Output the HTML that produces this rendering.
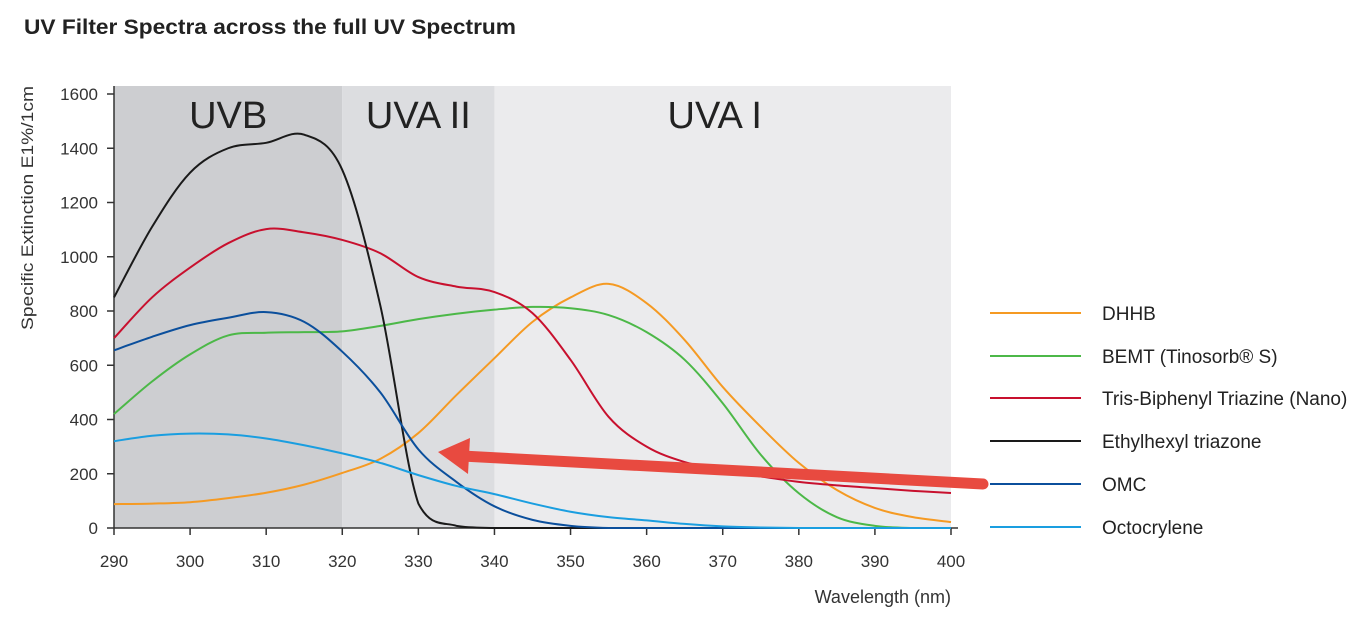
<!DOCTYPE html>
<html><head><meta charset="utf-8"><style>
body{margin:0;background:#fff;}
svg text{font-family:"Liberation Sans",Arial,sans-serif;}
</style></head><body>
<svg width="1366" height="617" viewBox="0 0 1366 617" xmlns="http://www.w3.org/2000/svg">
<text x="24" y="34" font-size="21" font-weight="bold" fill="#222" textLength="492" lengthAdjust="spacingAndGlyphs">UV Filter Spectra across the full UV Spectrum</text>
<g id="bands"></g>
<g id="axes"></g>
<g id="series"></g>
<g id="legend"></g>
<text transform="translate(33,208) rotate(-90)" text-anchor="middle" font-size="17" fill="#333" textLength="244" lengthAdjust="spacingAndGlyphs">Specific Extinction E1%/1cm</text>
<text x="951" y="603" text-anchor="end" font-size="18" fill="#333">Wavelength (nm)</text>
<g>
<line x1="983" y1="484" x2="462" y2="456" stroke="#e84a40" stroke-width="11" stroke-linecap="round"/>
<polygon points="438,452 470,438 468,474" fill="#e84a40"/>
</g>
</svg>
<script>
const NS="http://www.w3.org/2000/svg";
const wl=[290,295,300,305,310,315,320,325,330,335,340,345,350,355,360,365,370,375,380,385,390,395,400];
const dhhb=[88,90,95,110,130,160,203,255,350,490,626,760,850,900,829,693,520,373,240,140,74,40,22];
const bemt=[420,540,640,710,720,722,725,745,770,790,805,815,810,785,722,620,460,270,128,40,8,0,0];
const tbt=[700,850,960,1050,1102,1090,1062,1013,925,890,870,792,620,410,300,243,213,190,170,157,147,137,129];
const eht=[850,1110,1310,1400,1420,1450,1320,820,90,8,0,0,0,0,0,0,0,0,0,0,0,0,0];
const omc=[655,705,748,775,796,760,650,500,290,170,80,30,8,0,0,0,0,0,0,0,0,0,0];
const octo=[320,340,348,345,330,305,275,240,195,155,125,90,60,40,28,15,6,2,0,0,0,0,0];
const xTicks=[290,300,310,320,330,340,350,360,370,380,390,400];
const yTicks=[0,200,400,600,800,1000,1200,1400,1600];
const bandStarts=[290,320,340];
const bandEnds=[320,340,400];
const bandLabels=["UVB","UVA II","UVA I"];
const seriesNames=["DHHB","BEMT (Tinosorb® S)","Tris-Biphenyl Triazine (Nano)","Ethylhexyl triazone","OMC","Octocrylene"];
const seriesData=[dhhb,bemt,tbt,eht,omc,octo];
const seriesColors=["#f59a23","#4cb848","#c8102e","#1a1a1a","#0b4f9c","#1a9ee0"];
const X=v=>114+(v-290)*(951-114)/110;
const Y=v=>528-v*(528-94)/1600;
function mk(tag,attrs,parent){const e=document.createElementNS(NS,tag);for(const k in attrs)e.setAttribute(k,attrs[k]);parent.appendChild(e);return e;}
const bands=document.getElementById('bands');
const bandColors=["#cdced1","#dcdde0","#ebebed"];
bandStarts.forEach((s,i)=>{
 const r=mk('rect',{x:X(s),y:86,width:X(bandEnds[i])-X(s),height:528-86,fill:bandColors[i]},bands);
 
 
 const t=mk('text',{x:(X(s)+X(bandEnds[i]))/2-8*(i==2),y:128,'text-anchor':'middle','font-size':38,fill:'#222'},bands);
 t.textContent=bandLabels[i];
 
 
});
const ax=document.getElementById('axes');
mk('line',{x1:114,y1:86,x2:114,y2:528,stroke:'#333','stroke-width':1.5},ax);
mk('line',{x1:114,y1:528,x2:958,y2:528,stroke:'#333','stroke-width':1.5},ax);
xTicks.forEach(v=>{
 mk('line',{x1:X(v),y1:528,x2:X(v),y2:535,stroke:'#333','stroke-width':1.5},ax);
 const t=mk('text',{x:X(v),y:567,'text-anchor':'middle','font-size':17,fill:'#333'},ax);
 t.textContent=v;
 
 
});
yTicks.forEach(v=>{
 mk('line',{x1:107,y1:Y(v),x2:114,y2:Y(v),stroke:'#333','stroke-width':1.5},ax);
 const t=mk('text',{x:98,y:Y(v)+6,'text-anchor':'end','font-size':17,fill:'#333'},ax);
 t.textContent=v;
 
 
});
function pathFor(vals){
 const p=wl.map((w,i)=>[X(w),Y(vals[i])]);
 let d='M'+p[0][0]+','+p[0][1];
 for(let i=0;i<p.length-1;i++){
  const p0=p[i-1]||p[i],p1=p[i],p2=p[i+1],p3=p[i+2]||p2;
  let c1y=p1[1]+(p2[1]-p0[1])/6,c2y=p2[1]-(p3[1]-p1[1])/6;
  c1y=Math.min(c1y,528);c2y=Math.min(c2y,528);
  d+=` C${p1[0]+(p2[0]-p0[0])/6},${c1y} ${p2[0]-(p3[0]-p1[0])/6},${c2y} ${p2[0]},${p2[1]}`;
 }
 return d;
}
const sg=document.getElementById('series');
const lg=document.getElementById('legend');
const legY=[313,356,398,441,484,527];
seriesData.forEach((vals,i)=>{
 const pth=mk('path',{d:pathFor(vals),fill:'none',stroke:seriesColors[i],'stroke-width':2},sg);
 
 
 const g=mk('g',{},lg);
 
 
 mk('line',{x1:990,y1:legY[i],x2:1081,y2:legY[i],stroke:seriesColors[i],'stroke-width':2},g);
 const t=mk('text',{x:1102,y:legY[i]+7,'font-size':19,fill:'#222'},g);
 t.textContent=seriesNames[i];
});
</script>
</body></html>
